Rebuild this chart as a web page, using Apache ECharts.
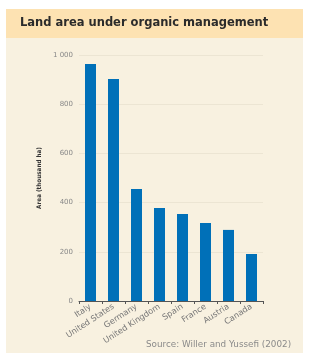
<!DOCTYPE html>
<html><head><meta charset="utf-8">
<script src="https://cdn.jsdelivr.net/npm/echarts@6/dist/echarts.min.js"></script>
<style>html,body{margin:0;padding:0;background:#fff}#c{width:334px;height:353px}</style>
</head><body><div id="c"></div>
<script>
var categories = ["Italy","United States","Germany","United Kingdom","Spain","France","Austria","Canada"];
var areaValues = [963, 902, 455, 378, 354, 317, 289, 191];
var yTicks = [0, 200, 400, 600, 800, 1000];
var titleText = "Land area under organic management";
var sourceText = "Source: Willer and Yussefi (2002)";
var yAxisName = "Area (thousand ha)";

var chart = echarts.init(document.getElementById('c'), null, {renderer:'canvas'});
chart.setOption({
  animation:false,
  backgroundColor:'#ffffff',
  graphic:[
    {type:'rect', z:-10, shape:{x:6,y:38,width:297,height:315}, style:{fill:'#f8f1e0'}},
    {type:'rect', z:-10, shape:{x:6,y:9,width:297,height:29}, style:{fill:'#fde2b2'}},
    {type:'text', left:20, top:17, style:{text:titleText, font:'bold 11.5px "DejaVu Sans"', fill:'#2b2b2b'}},
    {type:'text', left:146, top:340, style:{text:sourceText, font:'8.8px "DejaVu Sans"', fill:'#8a8a8a'}}
  ],
  grid:{left:79, right:71, top:55, bottom:52, containLabel:false},
  xAxis:{
    type:'category', data:categories,
    axisLine:{show:true, lineStyle:{color:'#555', width:1}},
    axisTick:{show:true, alignWithLabel:false, length:3, lineStyle:{color:'#555'}},
    axisLabel:{rotate:33, fontSize:8.2, color:'#777', fontFamily:'DejaVu Sans', margin:5, interval:0}
  },
  yAxis:{
    type:'value', min:0, max:1000, interval:200,
    name:yAxisName, nameLocation:'middle', nameGap:30,
    nameTextStyle:{fontSize:6.3, fontWeight:'bold', color:'#333', fontFamily:'"DejaVu Sans Condensed"'},
    axisLine:{show:false}, axisTick:{show:false},
    splitLine:{show:true, lineStyle:{color:'#ece5d3', width:1}},
    axisLabel:{fontSize:7, color:'#888', fontFamily:'DejaVu Sans', margin:6,
      formatter:function(v){ return v>=1000 ? (Math.floor(v/1000)+' '+String(v%1000).padStart(3,'0')) : String(v); }}
  },
  series:[{
    type:'bar', data:areaValues, barWidth:11,
    itemStyle:{color:'#0070b8'}
  }]
});
</script></body></html>
